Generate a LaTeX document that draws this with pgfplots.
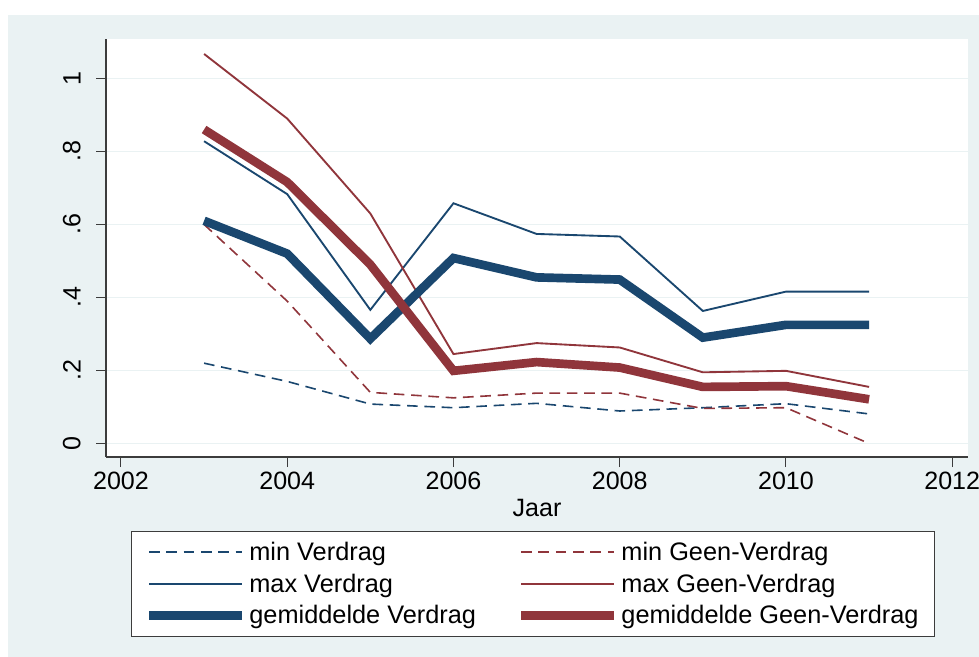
\documentclass[border=0pt]{standalone}
\usepackage{pgfplots}
\pgfplotsset{compat=1.18}
\usepackage{fontspec}
\setmainfont{Liberation Sans}
\definecolor{stnavy}{RGB}{26,71,111}
\definecolor{stmaroon}{RGB}{144,53,59}
\definecolor{stbg}{RGB}{234,242,243}
\definecolor{staxis}{RGB}{60,60,60}
\begin{document}
\begin{tikzpicture}[x=1pt,y=1pt]
\useasboundingbox (0,0) rectangle (734.25,492.75);
\fill[stbg] (6,0) rectangle (734.25,481.5);
\begin{axis}[
  at={(79.5pt,150pt)}, anchor=south west,
  scale only axis, width=646.5pt, height=313.5pt,
  xmin=2001.82, xmax=2012.19, ymin=-0.037, ymax=1.108,
  axis lines=left, axis line style={-, draw=staxis, line width=1pt},
  axis background/.style={fill=white},
  xtick={2002,2004,2006,2008,2010,2012},
  xticklabels={2002,2004,2006,2008,2010,2012},
  ytick={0,0.2,0.4,0.6,0.8,1},
  yticklabels={0,.2,.4,.6,.8,1},
  tick align=outside, major tick length=7.5pt,
  tick style={draw=staxis, line width=0.8pt},
  ymajorgrids, grid style={draw=stbg, line width=1.3pt},
  tick label style={font=\fontsize{18.8}{22}\selectfont},
  yticklabel style={xshift=-8pt, rotate=90, anchor=south},
  xlabel={Jaar},
  xlabel style={font=\fontsize{18.8}{22}\selectfont, yshift=-0.5pt},
  legend columns=2,
  legend style={at={(0.5,-0.177)}, anchor=north, xshift=-3pt, draw=staxis, fill=white,
    font=\fontsize{19}{22}\selectfont, cells={anchor=west},
    /tikz/every even column/.append style={column sep=28.5pt},
    row sep=4.6pt, inner xsep=10pt, inner ysep=6pt},
  legend image code/.code={\draw[#1] (0pt,0pt) -- (70pt,0pt);},
  line join=miter,
]
\addplot[stnavy, line width=1.2pt, dash pattern=on 8pt off 5pt] coordinates {
(2003,0.220) (2004,0.170) (2005,0.108) (2006,0.098) (2007,0.110) (2008,0.089) (2009,0.098) (2010,0.109) (2011,0.081)};
\addlegendentry{min Verdrag}
\addplot[stmaroon, line width=1.2pt, dash pattern=on 8pt off 5pt] coordinates {
(2003,0.600) (2004,0.390) (2005,0.140) (2006,0.125) (2007,0.138) (2008,0.138) (2009,0.096) (2010,0.098) (2011,0.000)};
\addlegendentry{min Geen-Verdrag}
\addplot[stnavy, line width=1.4pt] coordinates {
(2003,0.828) (2004,0.683) (2005,0.366) (2006,0.658) (2007,0.574) (2008,0.567) (2009,0.363) (2010,0.416) (2011,0.416)};
\addlegendentry{max Verdrag}
\addplot[stmaroon, line width=1.4pt] coordinates {
(2003,1.067) (2004,0.890) (2005,0.630) (2006,0.245) (2007,0.275) (2008,0.263) (2009,0.195) (2010,0.199) (2011,0.155)};
\addlegendentry{max Geen-Verdrag}
\addplot[stnavy, line width=6.5pt] coordinates {
(2003,0.610) (2004,0.520) (2005,0.287) (2006,0.508) (2007,0.455) (2008,0.449) (2009,0.290) (2010,0.325) (2011,0.325)};
\addlegendentry{gemiddelde Verdrag}
\addplot[stmaroon, line width=6.5pt] coordinates {
(2003,0.860) (2004,0.716) (2005,0.490) (2006,0.199) (2007,0.223) (2008,0.208) (2009,0.155) (2010,0.157) (2011,0.121)};
\addlegendentry{gemiddelde Geen-Verdrag}
\end{axis}
\end{tikzpicture}
\end{document}
